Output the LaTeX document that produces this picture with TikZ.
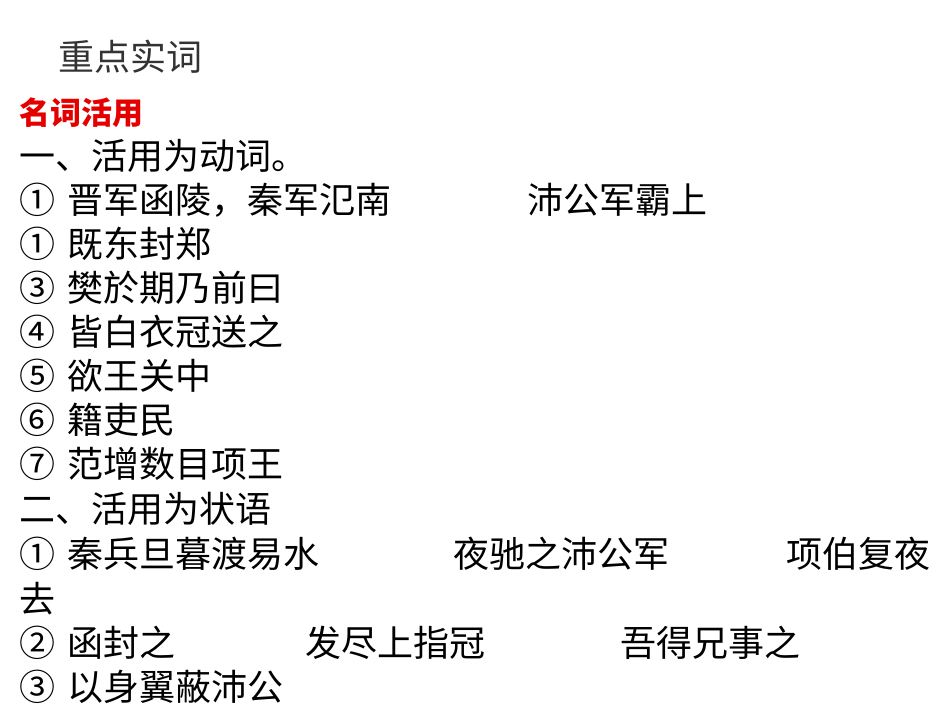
\documentclass[tikz,border=0pt]{standalone}
\usepackage{fontspec}
\newfontfamily\cjk{Noto Sans CJK SC}
\tikzset{t/.style={anchor=west,inner sep=0pt,font=\cjk\fontsize{36}{36}\selectfont},
r/.style={t,text=red!90!black,font=\cjk\bfseries\fontsize{31}{31}\selectfont},
h/.style={t,text=black!80,font=\cjk\fontsize{36}{36}\selectfont}}
\begin{document}
\begin{tikzpicture}[x=1pt,y=-1pt]
\useasboundingbox[fill=white](0,0) rectangle (950,713);
\node[h] (title) at (58,57) {重点实词};
\node[r] (red) at (19,113) {名词活用};
\node[t] (a0) at (19,156) {一、活用为动词。};
\node[t] (a1) at (19,200) {①\,\,晋军函陵，秦军氾南};
\node[t] (a1b) at (527,200) {沛公军霸上};
\node[t] (a2) at (19,244) {①\,\,既东封郑};
\node[t] (a3) at (19,288) {③\,\,樊於期乃前曰};
\node[t] (a4) at (19,332) {④\,\,皆白衣冠送之};
\node[t] (a5) at (19,376) {⑤\,\,欲王关中};
\node[t] (a6) at (19,420) {⑥\,\,籍吏民};
\node[t] (a7) at (19,464) {⑦\,\,范增数目项王};
\node[t] (b0) at (19,509) {二、活用为状语};
\node[t] (b1) at (19,554) {①\,\,秦兵旦暮渡易水};
\node[t] (b1b) at (453,554) {夜驰之沛公军};
\node[t] (b1c) at (786,554) {项伯复夜};
\node[t] (b1d) at (19,599) {去};
\node[t] (b2) at (19,643) {②\,\,函封之};
\node[t] (b2b) at (305,643) {发尽上指冠};
\node[t] (b2c) at (620,643) {吾得兄事之};
\node[t] (b3) at (19,687) {③\,\,以身翼蔽沛公};
\end{tikzpicture}
\end{document}
